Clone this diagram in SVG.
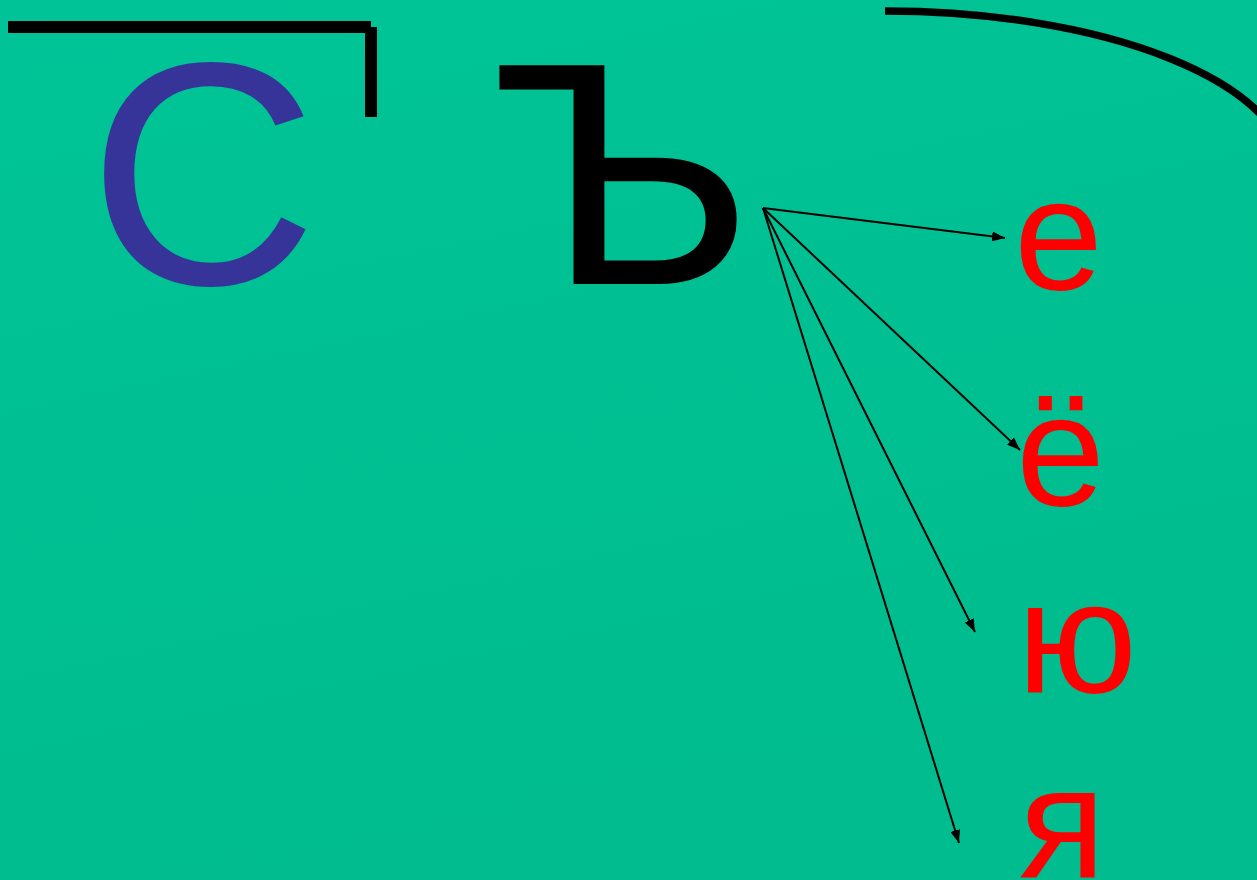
<svg xmlns="http://www.w3.org/2000/svg" width="1257" height="880" viewBox="0 0 1257 880">
<defs>
<linearGradient id="bg" x1="0" y1="0" x2="0.3" y2="1">
<stop offset="0" stop-color="#00C497"/>
<stop offset="1" stop-color="#00BC8E"/>
</linearGradient>
<marker id="ah" markerUnits="userSpaceOnUse" markerWidth="14" markerHeight="10" refX="13" refY="5" orient="auto">
<path d="M0,0 L13,5 L0,10 Z" fill="#000"/>
</marker>
<style>
.big{font-family:"Liberation Sans",Arial,sans-serif;font-size:318px}
.red{font-family:"Liberation Sans",Arial,sans-serif;font-size:160px;fill:#FF0000}
.arr{stroke:#000;stroke-width:2;fill:none;marker-end:url(#ah)}
</style>
</defs>
<rect width="1257" height="880" fill="url(#bg)"/>
<g id="frame">
<rect x="8" y="21" width="363" height="12" fill="#000"/>
<rect x="365" y="27" width="12" height="90" fill="#000"/>
<path d="M885,11 A403,162 0 0 1 1288,173" stroke="#000" stroke-width="7.5" fill="none"/>
</g>
<g id="node-s"><text class="big" x="88" y="284" fill="#363399">С</text></g>
<g id="node-hard"><text class="big" transform="translate(492,284) scale(1.04,1)" x="0" y="0" fill="#000">Ъ</text></g>
<g id="node-e"><text class="red" x="1014" y="289">е</text></g>
<g id="node-yo"><text class="red" x="1016" y="505">ё</text></g>
<g id="node-yu"><text class="red" x="1017" y="692">ю</text></g>
<g id="node-ya"><text class="red" x="1019" y="878">я</text></g>
<g id="connectors">
<line class="arr" x1="763" y1="208" x2="1005" y2="238"/>
<line class="arr" x1="763" y1="208" x2="1020" y2="450"/>
<line class="arr" x1="763" y1="208" x2="975" y2="632"/>
<line class="arr" x1="763" y1="208" x2="959" y2="843"/>
</g>
</svg>
